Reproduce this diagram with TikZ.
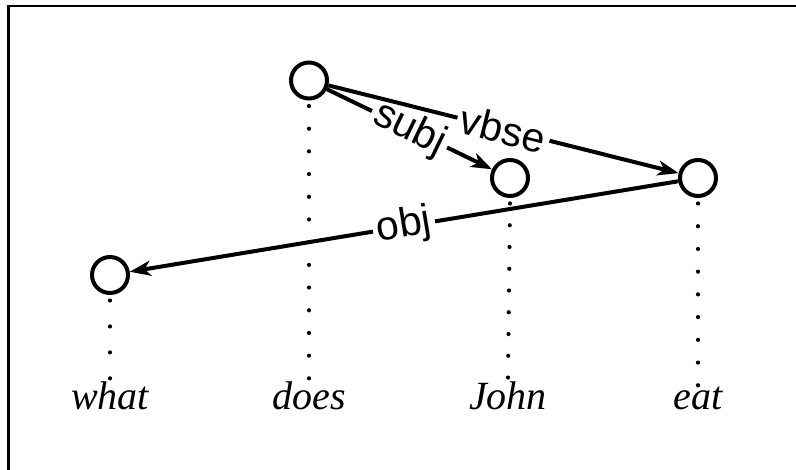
\documentclass[tikz,border=0pt]{standalone}
\usepackage{fontspec}
\setmainfont{Liberation Serif}
\setsansfont{Liberation Sans}
\usetikzlibrary{arrows.meta,calc}
\begin{document}
\begin{tikzpicture}[x=1pt,y=-1pt,
  vertex/.style={circle,draw,line width=4pt,minimum size=36pt,inner sep=0pt},
  word/.style={font=\fontsize{40}{48}\selectfont\itshape,anchor=base,inner sep=0pt},
  dep/.style={line width=4pt,-{Stealth[length=21pt,width=15pt,inset=6pt]}},
  lab/.style={font=\sffamily\fontsize{41}{48}\selectfont,fill=white,inner sep=4pt,sloped,midway},
  frame/.style={line width=2.7pt}
]
\useasboundingbox (0,0) rectangle (796,470);
\draw[frame] (8.7,480) -- (8.7,6) -- (806,6);

\node[vertex] (v1) at (110,275) {};
\node[vertex] (v2) at (309,80.5) {};
\node[vertex] (v3) at (510,178) {};
\node[vertex] (v4) at (698,178) {};

\node[word] (w1) at (110,410) {what};
\node[word] (w2) at (309,410) {does};
\node[word] (w3) at (508,410) {John};
\node[word] (w4) at (698,410) {eat};

\foreach \a/\b/\n/\e in {v1/w1/3/3.7pt, v2/w2/12/3.7pt, v3/w3/8/4.5pt, v4/w4/8/2pt}
  \foreach \i in {0,...,\n}
    \fill ($([yshift=-5.5pt]\a.south)!\i/\n!([yshift=\e]\b.north)$) circle (2.1pt);

\draw[dep] (v2) -- node[lab] {subj} (v3);
\draw[dep] (v2) -- node[lab] {vbse} (v4);
\draw[dep] (v4) -- node[lab] {obj} (v1);
\end{tikzpicture}
\end{document}
